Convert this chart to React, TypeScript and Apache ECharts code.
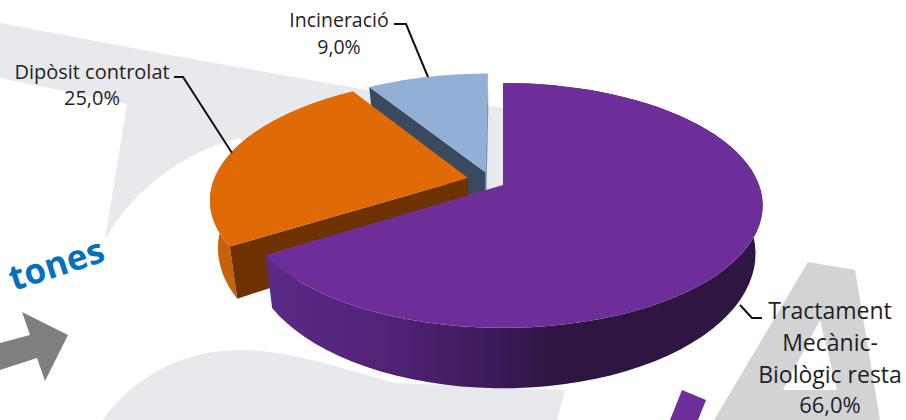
import React, { useEffect, useRef } from "react";
import * as echarts from "echarts";

const categories = ["Tractament Mecànic-Biològic resta", "Dipòsit controlat", "Incineració"];
const values = [66, 25, 9];
const labelLines = [["Tractament", "Mecànic-", "Biològic resta"], ["Dipòsit controlat"], ["Incineració"]];
const fmt = (v: number) => v.toFixed(1).replace(".", ",") + "%";

const topColors = ["#6e2e9a", "#e06a06", "#92b0d6"];
const cutColors = ["#4a2070", "#6e3200", "#3a4a5e"];
const explode = [[0, 0], [-0.138, -0.06], [-0.07, -0.11]];

const CX = 503;
const top = { R: 256, S: 119, cy: 185, k: 0.167 };
const low = { R: 249, S: 131, cy: 231, k: 0.167 };

function proj(u: number, v: number, p: typeof top): number[] {
  const den = 1 - p.k * v;
  return [CX + (p.R * u) / den, p.cy + (p.S * v) / den];
}

function rim(a0: number, a1: number, off: number[], p: typeof top): number[][] {
  const out: number[][] = [];
  const n = 72;
  for (let i = 0; i <= n; i++) {
    const a = a0 + ((a1 - a0) * i) / n;
    out.push(proj(Math.sin(a) + off[0], -Math.cos(a) + off[1], p));
  }
  return out;
}

function renderSlice(params: any, api: any) {
  const idx = api.value(0) as number;
  const total = values.reduce((s, v) => s + v, 0);
  let start = 0;
  for (let i = 0; i < idx; i++) start += values[i];
  const a0 = (start / total) * Math.PI * 2;
  const a1 = ((start + values[idx]) / total) * Math.PI * 2;
  const off = explode[idx];
  const rimTop = rim(a0, a1, off, top);
  const rimLow = rim(a0, a1, off, low);
  const apexT = proj(off[0], off[1], top);
  const apexL = proj(off[0], off[1], low);
  const children: any[] = [];
  const poly = (points: number[][], fill: any, stroke?: string) => ({
    type: "polygon",
    shape: { points },
    style: { fill, stroke: stroke ?? "none", lineWidth: stroke ? 1 : 0 },
  });
  if (idx === 0) {
    const grad = new echarts.graphic.LinearGradient(0, 0, 1, 0, [
      { offset: 0, color: "#5c2a87" },
      { offset: 0.22, color: "#512478" },
      { offset: 0.45, color: "#3e1a5c" },
      { offset: 0.58, color: "#2e1542" },
      { offset: 1, color: "#2e1542" },
    ]);
    children.push(poly(rimTop.concat(rimLow.slice().reverse()), grad));
  }
  if (idx === 1) {
    children.push(poly(rimTop.concat(rimLow.slice().reverse()), "#c6620c"));
    children.push(poly([rimTop[0], apexT, apexL, rimLow[0]], cutColors[1]));
  }
  if (idx === 2) {
    const n = rimTop.length - 1;
    children.push(poly([rimTop[n], apexT, apexL, rimLow[n]], "#7391b3"));
    children.push(poly([rimTop[0], apexT, apexL, rimLow[0]], cutColors[2]));
  }
  children.push(poly([apexT].concat(rimTop), topColors[idx]));
  return { type: "group", children };
}

echarts.graphic.registerShape(
  "wmBand",
  echarts.graphic.extendPath(
    "M0 23 L170 55 L367 90 L505 108 L505 200 L260 180 L240 138 C190 150 135 185 105 240 L127 104 L0 78 Z",
    {}
  )
);
echarts.graphic.registerShape(
  "wmSwoosh",
  echarts.graphic.extendPath(
    "M103 420 C120 395 165 350 240 350 C290 350 340 368 395 383 L565 390 L557 420 Z",
    {}
  )
);

const wm1 = "#e8e9ed";
const wm2 = "#d2d3d5";
const aOuter = [[808, 262], [855, 270], [880, 420], [714, 420]];
const aInner = [[820, 320], [783, 390], [837, 390]];
const arrowPts = [[0, 343], [30, 335], [22, 312], [68, 335], [45, 381], [37, 358], [0, 370]];
const barPts = [[682, 390], [706, 400], [698, 420], [670, 420]];

const textBase = { fontFamily: "'Open Sans'", fill: "#1f1f1f" };

function text(x: number, y: number, t: string, size: number) {
  return {
    type: "text",
    x,
    y,
    z: 20,
    style: { ...textBase, text: t, fontSize: size, textAlign: "center", textVerticalAlign: "middle" },
  };
}
function leader(points: number[][]) {
  return {
    type: "polyline",
    z: 20,
    shape: { points },
    style: { stroke: "#111111", lineWidth: 2, fill: "none" },
  };
}

export default function App() {
  const ref = useRef<HTMLDivElement>(null);
  useEffect(() => {
    document.body.style.margin = "0";
    const chart = echarts.init(ref.current!, undefined, { renderer: "svg" });
    chart.setOption({
      animation: false,
      backgroundColor: "#ffffff",
      graphic: {
        elements: [
          { type: "wmBand", z: 0, style: { fill: wm1 } },
          { type: "wmSwoosh", z: 0, style: { fill: wm1 } },
          { type: "polygon", z: 0, shape: { points: aOuter }, style: { fill: wm2 } },
          { type: "polygon", z: 1, shape: { points: aInner }, style: { fill: "#ffffff" } },
          { type: "polygon", z: 1, shape: { points: arrowPts }, style: { fill: "#7f7f7f" } },
          { type: "polygon", z: 1, shape: { points: barPts }, style: { fill: "#6e2e9a" } },
          {
            type: "text",
            x: 56,
            y: 263,
            rotation: (18 * Math.PI) / 180,
            z: 20,
            style: { text: "tones", fontFamily: "'Open Sans'", fontWeight: "bold", fontSize: 35, fill: "#0070c0", textAlign: "center", textVerticalAlign: "middle" },
          },
          text(339, 19, labelLines[2][0], 19.5),
          text(339, 46, fmt(values[2]), 19.5),
          text(92, 71, labelLines[1][0], 20),
          text(92, 97, fmt(values[1]), 20),
          text(830, 310, labelLines[0][0], 23),
          text(830, 342, labelLines[0][1], 23),
          text(830, 374, labelLines[0][2], 23),
          text(830, 404, fmt(values[0]), 22),
          leader([[394, 24], [406, 24], [428, 77]]),
          leader([[174, 77], [183, 77], [232, 153]]),
          leader([[740, 305], [752, 318], [762, 318]]),
        ],
      },
      series: [
        {
          type: "custom",
          coordinateSystem: "none",
          renderItem: renderSlice,
          silent: true,
          z: 5,
          data: [[2, categories[2]], [1, categories[1]], [0, categories[0]]],
        },
      ],
    });
    return () => chart.dispose();
  }, []);
  return <div ref={ref} style={{ width: 906, height: 420, position: "fixed", left: 0, top: 0 }} />;
}
